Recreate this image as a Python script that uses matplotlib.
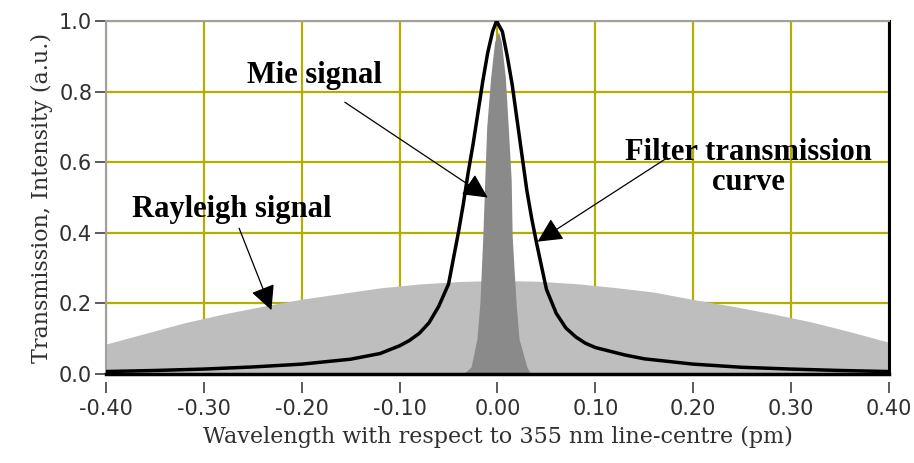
import matplotlib
matplotlib.use("Agg")
import matplotlib.pyplot as plt
import numpy as np

# Rayleigh signal (broad)
ray_x = [-0.40, -0.36, -0.32, -0.28, -0.24, -0.20, -0.16, -0.12, -0.08, -0.04, 0.00,
         0.04, 0.08, 0.12, 0.16, 0.20, 0.24, 0.28, 0.32, 0.36, 0.40]
ray_y = [0.085, 0.115, 0.145, 0.170, 0.192, 0.212, 0.228, 0.244, 0.255, 0.262, 0.265,
         0.263, 0.256, 0.245, 0.232, 0.211, 0.192, 0.171, 0.148, 0.120, 0.090]

# Mie signal (narrow peak)
mie_x = [-0.035, -0.027, -0.021, -0.018, -0.015, -0.013, -0.011, -0.007, -0.003, 0.001,
         0.004, 0.008, 0.011, 0.014, 0.015, 0.019, 0.022, 0.030, 0.034]
mie_y = [0.0, 0.02, 0.10, 0.20, 0.39, 0.55, 0.70, 0.84, 0.94, 0.97,
         0.94, 0.84, 0.70, 0.55, 0.39, 0.20, 0.10, 0.02, 0.0]

# filter transmission curve
filt_x = [-0.40, -0.35, -0.30, -0.25, -0.20, -0.15, -0.12, -0.10, -0.09, -0.08, -0.07,
          -0.06, -0.05, -0.04, -0.035, -0.03, -0.025, -0.02, -0.015, -0.01, -0.005,
          -0.001, 0.005, 0.01, 0.015, 0.02, 0.025, 0.03, 0.035, 0.04, 0.05, 0.06, 0.07,
          0.08, 0.09, 0.10, 0.13, 0.15, 0.20, 0.25, 0.30, 0.35, 0.40]
filt_y = [0.007, 0.010, 0.014, 0.020, 0.028, 0.042, 0.058, 0.080, 0.095, 0.115, 0.145,
          0.192, 0.255, 0.40, 0.48, 0.57, 0.65, 0.74, 0.83, 0.91, 0.97,
          1.0, 0.97, 0.90, 0.82, 0.72, 0.62, 0.52, 0.44, 0.37, 0.24, 0.172, 0.13,
          0.105, 0.087, 0.075, 0.054, 0.043, 0.028, 0.019, 0.014, 0.010, 0.007]

xticks = [-0.40, -0.30, -0.20, -0.10, 0.00, 0.10, 0.20, 0.30, 0.40]
yticks = [0.0, 0.2, 0.4, 0.6, 0.8, 1.0]

fig = plt.figure(figsize=(9.14, 4.63), dpi=100)
ax = fig.add_axes([0.116, 0.1922, 0.8566, 0.7624])

ax.fill_between(ray_x, 0, ray_y, color="#bebebe", lw=0, zorder=2)
ax.fill_between(mie_x, 0, mie_y, color="#8a8a8a", lw=0, zorder=3)
ax.plot(filt_x, filt_y, color="black", lw=2.5, zorder=4)

ax.set_xlim(-0.40, 0.40)
ax.set_ylim(0, 1.0)
ax.set_xticks(xticks)
ax.set_xticklabels(["%.2f" % v for v in xticks])
ax.set_yticks(yticks)
ax.set_yticklabels(["%.1f" % v for v in yticks])

ax.grid(True, color="#b4ae00", lw=1.6, zorder=1)
ax.set_axisbelow(True)

for s in ["top", "left"]:
    ax.spines[s].set_color("#a0a0a0")
    ax.spines[s].set_linewidth(1.5)
ax.spines["right"].set_color("black")
ax.spines["right"].set_linewidth(2.2)
ax.spines["bottom"].set_position(("outward", 6))
ax.spines["bottom"].set_visible(False)
ax.axhline(0, color="black", lw=2.5, zorder=5, clip_on=False)

ax.tick_params(axis="both", colors="#404040", labelcolor="#303030", labelsize=15,
               length=8, width=1.2)
ax.tick_params(axis="y", pad=2)
ax.tick_params(axis="x", pad=4)
for t in ax.get_xticklabels() + ax.get_yticklabels():
    t.set_family("DejaVu Sans")

ax.set_xlabel("Wavelength with respect to 355 nm line-centre (pm)",
              family="DejaVu Serif", fontsize=16, color="#303030", labelpad=5)
ax.set_ylabel("Transmission, Intensity (a.u.)",
              family="DejaVu Serif", fontsize=16, color="#303030", labelpad=4)

tfont = dict(family="Liberation Serif", fontweight="bold", fontsize=22, color="black")
arr = dict(arrowstyle="-|>", mutation_scale=38, lw=0.9, color="black", shrinkA=0, shrinkB=0)

ax.annotate("", xy=(-0.010, 0.50), xytext=(-0.156, 0.77), arrowprops=arr, zorder=6)
ax.text(-0.187, 0.845, "Mie signal", ha="center", va="center", **tfont)

ax.annotate("", xy=(0.041, 0.375), xytext=(0.172, 0.61), arrowprops=arr, zorder=6)
ax.text(0.256, 0.585, "Filter transmission\ncurve", ha="center", va="center",
        linespacing=1.05, **tfont)

ax.annotate("", xy=(-0.231, 0.181), xytext=(-0.264, 0.413), arrowprops=arr, zorder=6)
ax.text(-0.272, 0.465, "Rayleigh signal", ha="center", va="center", **tfont)

fig.savefig("out.png", dpi=100, facecolor="white")
